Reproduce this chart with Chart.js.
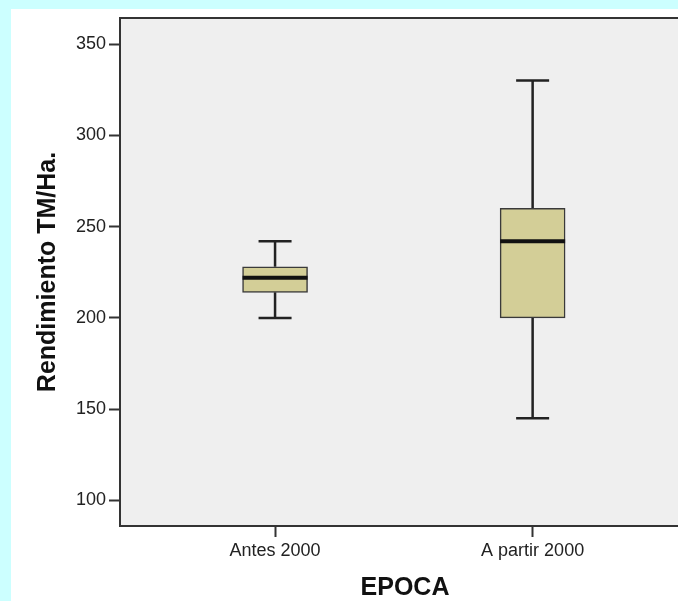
<!DOCTYPE html>
<html>
<head>
<meta charset="utf-8">
<script src="https://cdn.jsdelivr.net/npm/chart.js@4.4.1/dist/chart.umd.min.js"></script>
<style>
  html, body { margin: 0; padding: 0; overflow: hidden; background: #ccffff; }
  #hoja { position: absolute; left: 11px; top: 9px; width: 700px; height: 620px; background: #ffffff; }
  #grafico { position: absolute; left: 0; top: 0; }
</style>
</head>
<body>
<div id="hoja"></div>
<canvas id="grafico" width="700" height="601"></canvas>
<script>
// Datos del boxplot
const categorias = ['Antes 2000', 'A partir 2000'];
const posiciones = [1, 2];
const bigoteInf = [200, 145];
const q1 = [214, 200];
const mediana = [222, 242];
const q3 = [228, 260];
const bigoteSup = [242, 330];
const ticksY = [100, 150, 200, 250, 300, 350];

const colorCaja = '#d3ce97';
const colorLinea = '#222222';

// Fondo gris, marco, bigotes y medianas
const cajasPlugin = {
  id: 'cajas',
  beforeDatasetsDraw(chart) {
    const { ctx, chartArea: a, scales } = chart;
    ctx.save();
    ctx.fillStyle = '#efefef';
    ctx.fillRect(a.left, a.top, a.right - a.left, a.bottom - a.top);
    ctx.strokeStyle = '#333333';
    ctx.lineWidth = 2;
    ctx.strokeRect(a.left, a.top, a.right - a.left, a.bottom - a.top);

    // bigotes
    ctx.strokeStyle = colorLinea;
    ctx.lineWidth = 2.5;
    posiciones.forEach((p, i) => {
      const x = scales.x.getPixelForValue(p);
      const yMin = scales.y.getPixelForValue(bigoteInf[i]);
      const yMax = scales.y.getPixelForValue(bigoteSup[i]);
      const yQ1 = scales.y.getPixelForValue(q1[i]);
      const yQ3 = scales.y.getPixelForValue(q3[i]);
      ctx.beginPath();
      ctx.moveTo(x, yQ1); ctx.lineTo(x, yMin);
      ctx.moveTo(x, yQ3); ctx.lineTo(x, yMax);
      ctx.moveTo(x - 16.5, yMin); ctx.lineTo(x + 16.5, yMin);
      ctx.moveTo(x - 16.5, yMax); ctx.lineTo(x + 16.5, yMax);
      ctx.stroke();
    });
    ctx.restore();
  },
  afterDatasetsDraw(chart) {
    const { ctx, scales } = chart;
    const meta = chart.getDatasetMeta(0);
    ctx.save();
    ctx.strokeStyle = '#111111';
    ctx.lineWidth = 4;
    meta.data.forEach((bar, i) => {
      const y = scales.y.getPixelForValue(mediana[i]);
      ctx.beginPath();
      ctx.moveTo(bar.x - bar.width / 2, y);
      ctx.lineTo(bar.x + bar.width / 2, y);
      ctx.stroke();
    });
    ctx.restore();
  }
};

const ctx = document.getElementById('grafico').getContext('2d');

new Chart(ctx, {
  type: 'bar',
  data: {
    datasets: [{
      data: posiciones.map((p, i) => ({ x: p, y: [q1[i], q3[i]] })),
      backgroundColor: colorCaja,
      borderColor: '#3a3a3a',
      borderWidth: 1.5,
      borderSkipped: false,
      barThickness: 65
    }]
  },
  options: {
    responsive: false,
    devicePixelRatio: 1,
    animation: false,
    layout: { padding: { top: 18, right: 10, left: 0, bottom: 0 } },
    plugins: { legend: { display: false }, tooltip: { enabled: false } },
    scales: {
      x: {
        type: 'linear',
        offset: false,
        min: 0.398,
        max: 2.611,
        afterBuildTicks: (scale) => { scale.ticks = posiciones.map(v => ({ value: v })); },
        afterFit: (scale) => { scale.height = 75; },
        ticks: {
          callback: (v) => categorias[posiciones.indexOf(v)] || '',
          color: '#222222',
          font: { family: 'Liberation Sans, Arial', size: 18 },
          padding: 3,
          maxRotation: 0,
          autoSkip: false
        },
        grid: { offset: false, drawOnChartArea: false, drawTicks: true, tickLength: 11, tickColor: '#333333', tickWidth: 2 },
        border: { display: false },
        title: {
          display: true,
          text: 'EPOCA',
          color: '#111111',
          font: { family: 'Liberation Sans, Arial', size: 25, weight: 'bold', lineHeight: 1 },
          padding: { top: 0, bottom: 0 }
        }
      },
      y: {
        min: 86,
        max: 364.3,
        afterBuildTicks: (scale) => { scale.ticks = ticksY.map(v => ({ value: v })); },
        afterFit: (scale) => { scale.width = 120; },
        ticks: {
          color: '#222222',
          font: { family: 'Liberation Sans, Arial', size: 18 },
          padding: 3
        },
        grid: { drawOnChartArea: false, drawTicks: true, tickLength: 11, tickColor: '#333333', tickWidth: 2 },
        border: { display: false },
        title: {
          display: true,
          text: 'Rendimiento TM/Ha.',
          color: '#111111',
          font: { family: 'Liberation Sans, Arial', size: 25, weight: 'bold', lineHeight: 1 },
          padding: { top: 36, bottom: 0 }
        }
      }
    }
  },
  plugins: [cajasPlugin]
});
</script>
</body>
</html>
